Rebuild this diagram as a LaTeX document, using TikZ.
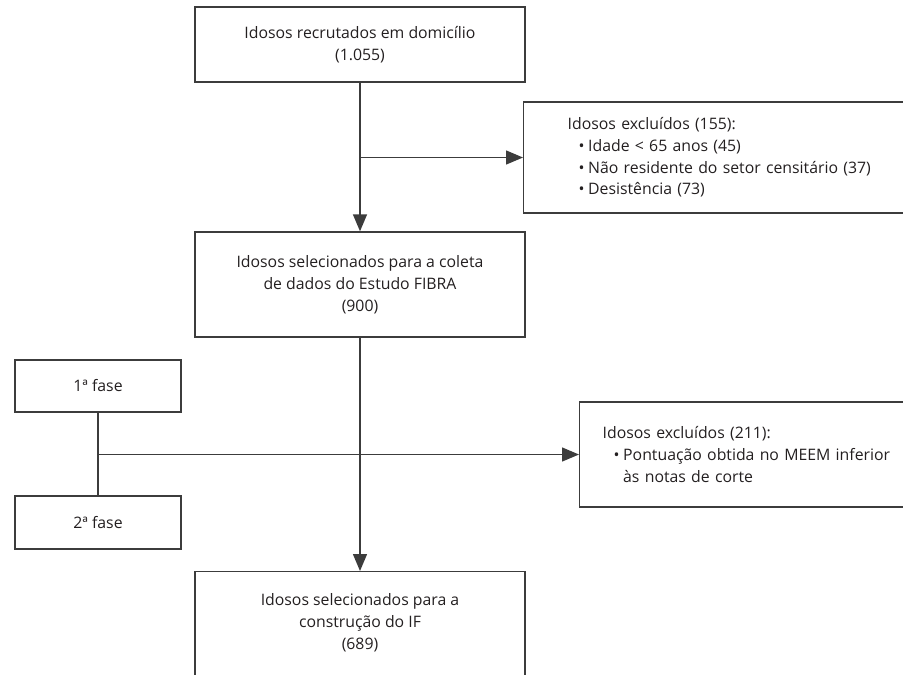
\documentclass[tikz,border=0pt]{standalone}
\usepackage{fontspec}
\setmainfont{Open Sans}
\usetikzlibrary{arrows.meta,positioning}
\definecolor{traco}{HTML}{3C3C3C}
\definecolor{texto}{HTML}{231F20}
\newcommand{\marca}{\makebox[0.22cm]{}\makebox[0.19cm][l]{•}}
\tikzset{
  caixa/.style={draw=traco, line width=0.8pt, text=texto, align=center, inner xsep=0pt,
    font=\fontsize{9}{12.4}\selectfont},
  centro/.style={caixa, minimum width=6.6cm},
  fase/.style={caixa, minimum width=3.32cm},
  excl/.style={caixa, anchor=west, align=left, minimum width=8cm},
  seta/.style={draw=traco, line width=0.8pt, -{Triangle[length=0.34cm,width=0.28cm]}},
  linha/.style={draw=traco, line width=0.8pt}
}
\begin{document}
\begin{tikzpicture}[x=0.02cm,y=-0.02cm]
\useasboundingbox (0,0) rectangle (903,674);
\clip (0,0) rectangle (903,674);
% caixas do fluxo principal
\node[centro, minimum height=1.5cm] (rec) at (360,44.5) {Idosos recrutados em domicílio\\(1.055)};
\node[centro, minimum height=2.1cm] (sel) at (360,284.5) {Idosos selecionados para a coleta\\de dados do Estudo FIBRA\\(900)};
\node[centro, anchor=north, inner ysep=0.44cm, text depth=2.5cm] (cons) at (360,571) {Idosos selecionados para a\\construção do IF\\(689)};
% exclusoes
\node[excl, minimum height=2.22cm, inner xsep=0.88cm, text width=6.24cm] (exc1) at (523,157.5)
  {Idosos excluídos (155):\\\marca Idade < 65 anos (45)\\\marca Não residente do setor censitário (37)\\\marca Desistência (73)};
\node[excl, minimum height=2.1cm, inner xsep=0.46cm, text width=7.08cm] (exc2) at (579,454.5)
  {Idosos excluídos (211):\\\marca\parbox[t]{6.2cm}{\raggedright Pontuação obtida no MEEM inferior\\às notas de corte}};
% fases
\node[fase, minimum height=1.04cm] (f1) at (98,386) {1ª fase};
\node[fase, minimum height=1.06cm] (f2) at (98,522.5) {2ª fase};
\coordinate (r1) at (360,157.5);
\coordinate (r2) at (98,454.5);
\draw[seta] (rec) -- (sel);
\draw[seta] (sel) -- (cons);
\draw[seta] (r1) -- (exc1.west);
\draw[linha] (f1) -- (f2);
\draw[seta] (r2) -- (exc2.west);
\end{tikzpicture}
\end{document}
